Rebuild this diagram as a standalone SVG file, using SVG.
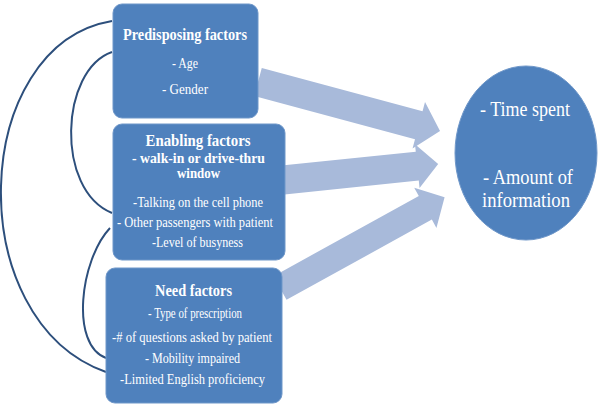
<svg xmlns="http://www.w3.org/2000/svg" width="600" height="406" viewBox="0 0 600 406">
<style>
.box{fill:#4f81bd;stroke:#6f97c9;stroke-width:1}
.arrow{fill:#a8bada}
.curve{fill:none;stroke:#2d4f7c;stroke-width:2}
text{font-family:"Liberation Serif","Times New Roman",serif;fill:#ffffff;text-anchor:middle}
.t{font-size:16.5px;font-weight:bold}
.b{font-size:14.5px}
.bb{font-size:14px;font-weight:bold}
.e{font-size:21px}
</style>
<rect width="600" height="406" fill="#ffffff"/>
<g id="connectors">
<path class="curve" d="M112,21 C-30,45 -40,320 106,372"/>
<path class="curve" d="M112,52 C60,70 55,190 112,213"/>
<path class="curve" d="M110,228 C80,260 70,345 106,358"/>
<g transform="translate(258,82) rotate(15.07)"><polygon class="arrow" points="0,-14.5 166.5,-14.5 166.5,-24 188.5,0 166.5,24 166.5,14.5 0,14.5"/></g>
<g transform="translate(283,180) rotate(-5.93)"><polygon class="arrow" points="0,-14.5 135,-14.5 135,-22 156,0 135,22 135,14.5 0,14.5"/></g>
<g transform="translate(280,288) rotate(-28.9)"><polygon class="arrow" points="0,-13.5 166,-13.5 166,-23 188,0 166,23 166,13.5 0,13.5"/></g>
</g>
<g id="predisposing">
<rect class="box" x="113" y="4" width="145" height="114" rx="9"/>
<text class="t" x="185" y="40" textLength="124" lengthAdjust="spacingAndGlyphs">Predisposing factors</text>
<text class="b" x="185" y="68" textLength="26" lengthAdjust="spacingAndGlyphs">- Age</text>
<text class="b" x="185" y="94" textLength="46" lengthAdjust="spacingAndGlyphs">- Gender</text>
</g>
<g id="enabling">
<rect class="box" x="113" y="124" width="172" height="136" rx="9"/>
<text class="t" x="198" y="146" textLength="105" lengthAdjust="spacingAndGlyphs">Enabling factors</text>
<text class="bb" x="198.5" y="163" textLength="133" lengthAdjust="spacingAndGlyphs">- walk-in or drive-thru</text>
<text class="bb" x="198.5" y="178" textLength="43" lengthAdjust="spacingAndGlyphs">window</text>
<text class="b" x="198" y="207" textLength="130" lengthAdjust="spacingAndGlyphs">-Talking  on the cell phone</text>
<text class="b" x="195" y="227" textLength="156" lengthAdjust="spacingAndGlyphs">- Other passengers with patient</text>
<text class="b" x="197.5" y="247" textLength="91" lengthAdjust="spacingAndGlyphs">-Level of busyness</text>
</g>
<g id="need">
<rect class="box" x="106" y="268" width="176" height="135" rx="9"/>
<text class="t" x="193.5" y="296" textLength="77" lengthAdjust="spacingAndGlyphs">Need factors</text>
<text class="b" x="195" y="318" textLength="94" lengthAdjust="spacingAndGlyphs">- Type of prescription</text>
<text class="b" x="192" y="342" textLength="160" lengthAdjust="spacingAndGlyphs">-# of questions asked by patient</text>
<text class="b" x="192.5" y="363" textLength="95" lengthAdjust="spacingAndGlyphs">- Mobility impaired</text>
<text class="b" x="192.5" y="384" textLength="145" lengthAdjust="spacingAndGlyphs">-Limited English proficiency</text>
</g>
<g id="outcome">
<ellipse class="box" cx="526" cy="153" rx="71" ry="87"/>
<text class="e" x="525" y="116" textLength="90" lengthAdjust="spacingAndGlyphs">- Time spent</text>
<text class="e" x="528" y="184" textLength="90" lengthAdjust="spacingAndGlyphs">- Amount of</text>
<text class="e" x="526" y="207" textLength="88" lengthAdjust="spacingAndGlyphs">information</text>
</g>
</svg>
